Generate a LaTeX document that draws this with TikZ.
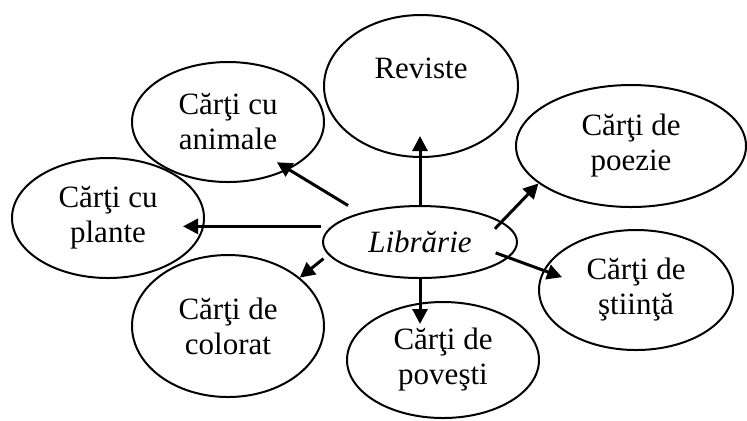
\documentclass[tikz,border=0pt]{standalone}
\usepackage{fontspec}
\setmainfont{Liberation Serif}
\usetikzlibrary{shapes.geometric,arrows.meta}
\tikzset{
  bubble/.style={draw, ellipse, line width=1pt, inner sep=0pt, align=center,
    font=\fontsize{15.5}{17.5}\selectfont},
  arr/.style={-{Triangle[length=7.5pt,width=7.5pt]}, line width=1.5pt}
}
\begin{document}
\begin{tikzpicture}[x=0.5pt,y=-0.5pt]
\useasboundingbox (0,0) rectangle (747,420);
\node[bubble, minimum width=97pt, minimum height=36pt, font=\fontsize{15.5}{17.5}\selectfont\itshape] (lib) at (420,242) {Librărie};
\node[bubble, minimum width=97pt, minimum height=71pt] (rev) at (421,86) {Reviste\\\mbox{}};
\node[bubble, minimum width=96pt, minimum height=60pt] (ani) at (228,122) {Cărţi cu\\animale};
\node[bubble, minimum width=96pt, minimum height=60pt] (pla) at (108,218) {Cărţi cu\\plante};
\node[bubble, minimum width=96pt, minimum height=71pt] (col) at (228,326) {Cărţi de\\colorat};
\node[bubble, minimum width=115pt, minimum height=61pt] (poe) at (631,146) {Cărţi de\\poezie};
\node[bubble, minimum width=97pt, minimum height=60pt] (sti) at (636,290) {Cărţi de\\ştiinţă};
\node[bubble, minimum width=96pt, minimum height=58pt] (pov) at (443,360) {Cărţi de\\poveşti};

\draw[arr, shorten >=-11pt] (lib.north) -- (lib.north |- rev.south);
\draw[arr, shorten <=7pt, shorten >=-7pt] (lib.154) -- (ani.-38);
\draw[arr, shorten <=5pt, shorten >=-11pt] (lib.170) -- (lib.170 -| pla.east);
\draw[arr, shorten <=3pt] (lib.188) -- (col.34);
\draw[arr, shorten <=-5pt] (lib.14) -- (poe.202);
\draw[arr, shorten <=-7pt, shorten >=-10pt] (lib.-10) -- (sti.168);
\draw[arr, shorten >=-11.5pt] (lib.south) -- (lib.south |- pov.north);
\end{tikzpicture}
\end{document}
